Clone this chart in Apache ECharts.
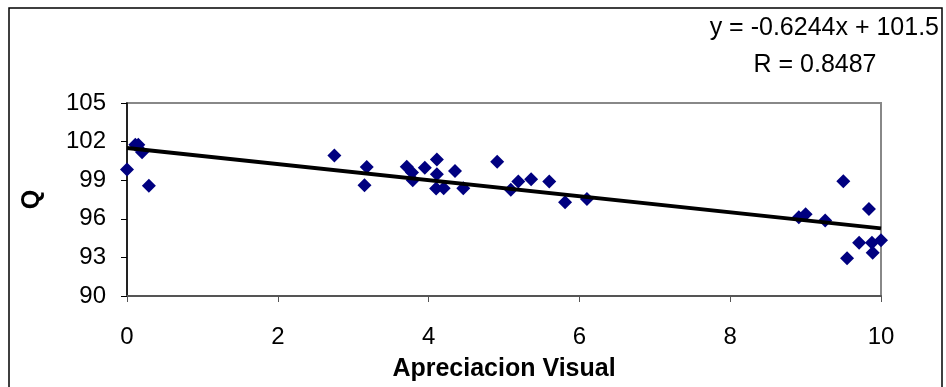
<!DOCTYPE html>
<html>
<head>
<meta charset="utf-8">
<script src="https://cdn.jsdelivr.net/npm/echarts@6/dist/echarts.min.js"></script>
<style>html,body{margin:0;padding:0;background:#fff;}#c{width:946px;height:387px;}</style>
</head>
<body>
<div id="c"></div>
<script>
const xValues = [0, 0.11, 0.15, 0.2, 0.29, 2.75, 3.18, 3.15, 3.71, 3.78, 3.79, 3.95, 4.11, 4.11, 4.1, 4.2, 4.35, 4.46, 4.91, 5.09, 5.19, 5.36, 5.6, 5.81, 6.1, 8.91, 9.0, 9.26, 9.5, 9.55, 9.71, 9.84, 9.88, 9.89, 10.0];
const yValues = [99.84, 101.76, 101.76, 101.17, 98.56, 100.91, 100.02, 98.61, 100.05, 99.59, 99.0, 99.97, 100.6, 99.46, 98.36, 98.38, 99.71, 98.38, 100.43, 98.25, 98.9, 99.07, 98.9, 97.28, 97.54, 96.13, 96.36, 95.87, 98.92, 92.94, 94.14, 96.77, 94.14, 93.37, 94.34];
const trendX = [0, 10];
const trendY = [101.5, 95.256];
const xTicks = [0, 2, 4, 6, 8, 10];
const yTicks = [90, 93, 96, 99, 102, 105];
const eqText = 'y = -0.6244x + 101.5';
const rText = 'R = 0.8487';

const pts = xValues.map((x, i) => [x, yValues[i]]);
const trend = trendX.map((x, i) => [x, trendY[i]]);
const font = 'Arial, "Liberation Sans", sans-serif';

const chart = echarts.init(document.getElementById('c'), null, {renderer: 'canvas'});
chart.setOption({
  animation: false,
  backgroundColor: '#fff',
  grid: {left: 127, right: 65, top: 103, bottom: 89, show: true, borderColor: '#888', borderWidth: 2, backgroundColor: 'transparent'},
  xAxis: {
    type: 'value', min: xTicks[0], max: xTicks[xTicks.length - 1], interval: 2,
    name: 'Apreciacion Visual', nameLocation: 'middle', nameGap: 61,
    nameTextStyle: {fontFamily: font, fontSize: 25, fontWeight: 'bold', color: '#000'},
    axisLine: {onZero: false, lineStyle: {color: '#555', width: 2}},
    axisTick: {show: true, length: 6, lineStyle: {color: '#555', width: 1}},
    axisLabel: {fontFamily: font, fontSize: 24, color: '#000', margin: 29},
    splitLine: {show: false}
  },
  yAxis: {
    type: 'value', min: yTicks[0], max: yTicks[yTicks.length - 1], interval: 3,
    name: 'Q', nameLocation: 'middle', nameGap: 82, nameRotate: 90,
    nameTextStyle: {fontFamily: font, fontSize: 25, fontWeight: 'bold', color: '#000'},
    axisLine: {onZero: false, lineStyle: {color: '#000', width: 1.5}},
    axisTick: {show: true, length: 6, lineStyle: {color: '#000', width: 1}},
    axisLabel: {fontFamily: font, fontSize: 24, color: '#000', margin: 21},
    splitLine: {show: false}
  },
  series: [
    {type: 'scatter', data: pts, symbol: 'diamond', symbolSize: 14, itemStyle: {color: '#000080', opacity: 1}, z: 3},
    {type: 'line', data: trend, symbol: 'none', lineStyle: {color: '#000', width: 4}, z: 4}
  ],
  graphic: [
    {type: 'rect', shape: {x: 9, y: 8, width: 933, height: 400}, style: {fill: 'none', stroke: '#000', lineWidth: 1.5}, silent: true},
    {type: 'text', x: 939, y: 28, style: {text: eqText, font: '25px Arial, "Liberation Sans", sans-serif', fill: '#000', align: 'right', verticalAlign: 'middle'}},
    {type: 'text', x: 815, y: 65, style: {text: rText, font: '25px Arial, "Liberation Sans", sans-serif', fill: '#000', align: 'center', verticalAlign: 'middle'}}
  ]
});
</script>
</body>
</html>
